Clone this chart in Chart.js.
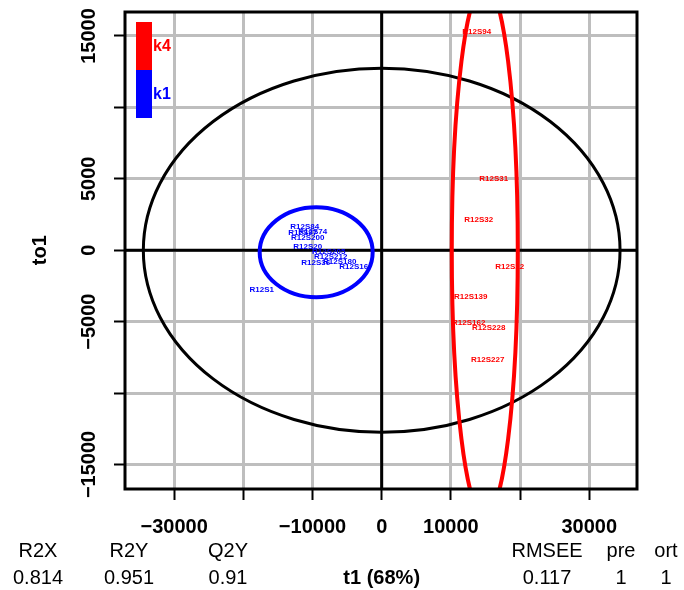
<!DOCTYPE html>
<html>
<head>
<meta charset="utf-8">
<script src="https://cdn.jsdelivr.net/npm/chart.js@4.4.1/dist/chart.umd.min.js"></script>
<style>
  html, body { margin: 0; padding: 0; background: #fff; }
  #wrap { width: 684px; height: 590px; }
</style>
</head>
<body>
<div id="wrap"><canvas id="score-plot" width="684" height="590"></canvas></div>
<script>
// 样本得分 (t1, to1)
var k1Labels = ['R12S84', 'R12S97', 'R12S74', 'R12S200', 'R12S20', 'R12S205', 'R12S212', 'R12S36', 'R12S180', 'R12S16', 'R12S1'];
var k1X = [-11130, -11420, -9970, -10690, -10690, -7660, -7370, -9540, -6070, -4050, -17340];
var k1Y = [1610, 1190, 1260, 840, 210, -140, -490, -910, -840, -1190, -2800];

var k4Labels = ['R12S94', 'R12S31', 'R12S32', 'R12S12', 'R12S139', 'R12S162', 'R12S228', 'R12S227'];
var k4X = [13730, 16190, 14020, 18500, 12860, 12570, 15460, 15320];
var k4Y = [15270, 4970, 2100, -1190, -3290, -5110, -5460, -7700];

// 图例（从上到下）
var groupNames = ['k4', 'k1'];
var groupColors = ['#FF0000', '#0000FF'];

// 椭圆: 总体 Hotelling 椭圆, k4, k1
var ellipseCx = [0, 14900, -9470];
var ellipseCy = [0, 0, -140];
var ellipseRx = [34450, 4770, 8165];
var ellipseRy = [12745, 18700, 3150];
var ellipseColors = ['#000000', '#FF0000', '#0000FF'];

// 坐标轴刻度
var xTicks = [-30000, -20000, -10000, 0, 10000, 20000, 30000];
var xTickLabels = ['\u221230000', '', '\u221210000', '0', '10000', '', '30000'];
var yTicks = [-15000, -10000, -5000, 0, 5000, 10000, 15000];
var yTickLabels = ['\u221215000', '', '\u22125000', '0', '5000', '', '15000'];

// 模型参数
var statNames = ['R2X', 'R2Y', 'Q2Y', 'RMSEE', 'pre', 'ort'];
var statValues = ['0.814', '0.951', '0.91', '0.117', '1', '1'];

var FONT = '"Liberation Sans", Arial, Helvetica, sans-serif';

function toPoints(xs, ys) {
  return xs.map(function(x, i) { return { x: x, y: ys[i] }; });
}

/**
 * 零线、样本标签、椭圆、边框、图例和文字
 */
var plotExtras = {
  id: 'plotExtras',
  beforeDatasetsDraw: function(chart) {
    var ctx = chart.ctx, a = chart.chartArea;
    var xs = chart.scales.x, ys = chart.scales.y;
    ctx.save();
    ctx.strokeStyle = '#000';
    ctx.lineWidth = 3;
    ctx.beginPath();
    var x0 = xs.getPixelForValue(0), y0 = ys.getPixelForValue(0);
    ctx.moveTo(x0, a.top); ctx.lineTo(x0, a.bottom);
    ctx.moveTo(a.left, y0); ctx.lineTo(a.right, y0);
    ctx.stroke();
    ctx.restore();
  },
  afterDatasetsDraw: function(chart) {
    var ctx = chart.ctx, a = chart.chartArea;
    var xs = chart.scales.x, ys = chart.scales.y;

    // 样本标签
    ctx.save();
    ctx.font = 'bold 8px ' + FONT;
    ctx.textAlign = 'center';
    ctx.textBaseline = 'middle';
    chart.data.datasets.forEach(function(ds, di) {
      var meta = chart.getDatasetMeta(di);
      ctx.fillStyle = ds.labelColor;
      meta.data.forEach(function(el, i) {
        ctx.fillText(ds.names[i], el.x, el.y);
      });
    });
    ctx.restore();

    // 椭圆
    ctx.save();
    ctx.beginPath();
    ctx.rect(a.left, a.top, a.right - a.left, a.bottom - a.top);
    ctx.clip();
    for (var i = 0; i < ellipseCx.length; i++) {
      var cx = xs.getPixelForValue(ellipseCx[i]);
      var cy = ys.getPixelForValue(ellipseCy[i]);
      var rx = Math.abs(xs.getPixelForValue(ellipseCx[i] + ellipseRx[i]) - cx);
      var ry = Math.abs(ys.getPixelForValue(ellipseCy[i] + ellipseRy[i]) - cy);
      ctx.strokeStyle = ellipseColors[i];
      ctx.lineWidth = i === 0 ? 3 : 4;
      ctx.beginPath();
      ctx.ellipse(cx, cy, rx, ry, 0, 0, Math.PI * 2);
      ctx.stroke();
    }
    ctx.restore();

    // 边框
    ctx.save();
    ctx.strokeStyle = '#000';
    ctx.lineWidth = 3;
    ctx.strokeRect(a.left, a.top, a.right - a.left, a.bottom - a.top);
    ctx.restore();

    // 图例色块
    ctx.save();
    ctx.font = 'bold 16px ' + FONT;
    ctx.textAlign = 'left';
    ctx.textBaseline = 'middle';
    for (var g = 0; g < groupNames.length; g++) {
      var top = 22 + g * 48;
      ctx.fillStyle = groupColors[g];
      ctx.fillRect(136, top, 16, 48);
      ctx.fillText(groupNames[g], 153, top + 25);
    }
    ctx.restore();
  },
  afterDraw: function(chart) {
    var ctx = chart.ctx;
    var ys = chart.scales.y;

    // y 轴刻度标签（竖排）
    ctx.save();
    ctx.fillStyle = '#000';
    ctx.font = 'bold 20px ' + FONT;
    ctx.textAlign = 'center';
    ctx.textBaseline = 'alphabetic';
    yTicks.forEach(function(v, i) {
      if (!yTickLabels[i]) return;
      ctx.save();
      ctx.translate(95, ys.getPixelForValue(v));
      ctx.rotate(-Math.PI / 2);
      ctx.fillText(yTickLabels[i], 0, 0);
      ctx.restore();
    });

    // y 轴标题
    ctx.save();
    ctx.translate(46, ys.getPixelForValue(0));
    ctx.rotate(-Math.PI / 2);
    ctx.fillText('to1', 0, 0);
    ctx.restore();

    // 底部模型参数表
    var cols = [38, 129, 228, 547, 621, 666];
    ctx.font = '20px ' + FONT;
    ctx.textBaseline = 'middle';
    for (var i = 0; i < statNames.length; i++) {
      ctx.fillText(statNames[i], cols[i], 551);
      ctx.fillText(statValues[i], cols[i], 578);
    }
    ctx.font = 'bold 20px ' + FONT;
    ctx.fillText('t1 (68%)', chart.scales.x.getPixelForValue(0), 578);
    ctx.restore();
  }
};

new Chart(document.getElementById('score-plot'), {
  type: 'scatter',
  data: {
    datasets: [{
      label: 'k1',
      names: k1Labels,
      labelColor: '#0000FF',
      data: toPoints(k1X, k1Y),
      pointRadius: 0,
      pointHoverRadius: 0
    }, {
      label: 'k4',
      names: k4Labels,
      labelColor: '#FF0000',
      data: toPoints(k4X, k4Y),
      pointRadius: 0,
      pointHoverRadius: 0
    }]
  },
  options: {
    responsive: false,
    animation: false,
    events: [],
    layout: {
      padding: { top: 12, right: 47, left: 0, bottom: 0 }
    },
    plugins: {
      legend: { display: false },
      tooltip: { enabled: false }
    },
    scales: {
      x: {
        type: 'linear',
        min: -37100,
        max: 36900,
        afterBuildTicks: function(scale) {
          scale.ticks = xTicks.map(function(v) { return { value: v }; });
        },
        afterFit: function(scale) { scale.height = 101; },
        border: { display: false },
        grid: {
          color: '#BEBEBE',
          lineWidth: 3,
          drawTicks: true,
          tickLength: 11,
          tickColor: '#000',
          tickWidth: 2
        },
        ticks: {
          autoSkip: false,
          maxRotation: 0,
          padding: 15,
          color: '#000',
          font: { family: FONT, size: 20, weight: 'bold' },
          callback: function(value, index) { return xTickLabels[index]; }
        }
      },
      y: {
        type: 'linear',
        min: -16720,
        max: 16680,
        afterBuildTicks: function(scale) {
          scale.ticks = yTicks.map(function(v) { return { value: v }; });
        },
        afterFit: function(scale) { scale.width = 125; },
        border: { display: false },
        grid: {
          color: '#BEBEBE',
          lineWidth: 3,
          drawTicks: true,
          tickLength: 11,
          tickColor: '#000',
          tickWidth: 2
        },
        ticks: { display: false }
      }
    }
  },
  plugins: [plotExtras]
});
</script>
</body>
</html>
